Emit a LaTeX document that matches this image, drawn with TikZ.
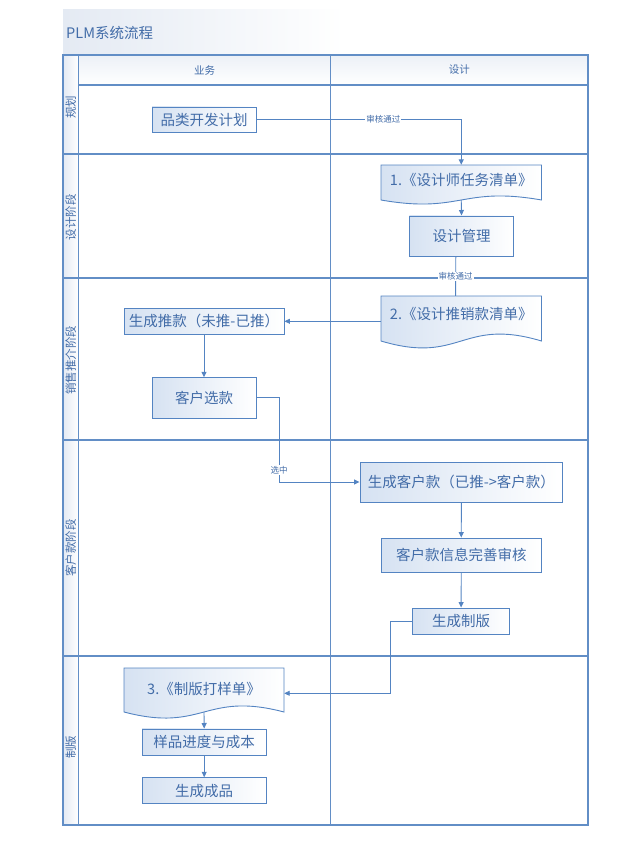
\documentclass[tikz,border=0pt]{standalone}
\usepackage{fontspec}
\newfontfamily\cjk{Noto Sans CJK SC}
\usetikzlibrary{arrows.meta,calc}
\definecolor{linecol}{RGB}{84,132,194}
\definecolor{framecol}{RGB}{98,142,198}
\definecolor{textcol}{RGB}{66,108,168}
\definecolor{boxfill}{RGB}{214,226,242}
\definecolor{bandfill}{RGB}{228,234,243}
\tikzset{
  boxnode/.style={draw=linecol, line width=0.9pt, left color=boxfill, right color=white,
    text=textcol, font=\cjk\fontsize{14.5}{16}\selectfont, inner sep=0pt, align=center},
  doctext/.style={text=textcol, font=\cjk\fontsize{14.5}{16}\selectfont, inner sep=0pt, draw=none},
  docshape/.style={draw=linecol, line width=0.9pt, left color=boxfill, right color=white},
  frameline/.style={draw=framecol, line width=1.1pt},
  conn/.style={draw=linecol, line width=0.9pt},
  arr/.style={conn, -{Triangle[length=5.5pt,width=5pt]}},
  edgelabel/.style={fill=white, text=textcol, font=\cjk\fontsize{8.5}{10}\selectfont, inner sep=1pt},
  lanelabel/.style={text=textcol, font=\cjk\fontsize{11.5}{13}\selectfont, rotate=90, inner sep=0pt},
  headlabel/.style={text=textcol, font=\cjk\fontsize{10.5}{12}\selectfont, inner sep=0pt}
}
\begin{document}
\begin{tikzpicture}[x=1pt,y=-1pt]
\useasboundingbox (0,0) rectangle (616,864);
% title band
\shade[left color=bandfill, right color=white] (63,10) rectangle (345,55);
\node[anchor=west, text=textcol, font=\cjk\fontsize{14.5}{16}\selectfont, inner sep=0pt] (title) at (66,33) {PLM系统流程};
% label column and header fills
\shade[left color=bandfill, right color=white] (63,55) rectangle (78.6,825);
\shade[top color=bandfill!70, bottom color=white] (78.6,55) rectangle (330.8,85);
\shade[top color=bandfill!70, bottom color=white] (330.8,55) rectangle (588,85);
% frame
\draw[frameline] (63,55) rectangle (588,825);
\draw[frameline] (78.6,55) -- (78.6,825);
\draw[frameline] (330.8,55) -- (330.8,825);
\draw[frameline] (78.6,85) -- (588,85);
\foreach \yy in {154,278,440,656} \draw[frameline] (63,\yy) -- (588,\yy);
% headers
\node[headlabel] (h1) at (204.7,70) {业务};
\node[headlabel] (h2) at (459.4,70) {设计};
% lane labels
\node[lanelabel] (l1) at (70.8,107) {规划};
\node[lanelabel] (l2) at (70.8,217) {设计阶段};
\node[lanelabel] (l3) at (70.8,360) {销售推介阶段};
\node[lanelabel] (l4) at (70.8,548) {客户款阶段};
\node[lanelabel] (l5) at (70.8,747) {制版};
% boxes
\node[boxnode, minimum width=104pt, minimum height=25pt] (n1) at (204,119.5) {品类开发计划};
\node[boxnode, minimum width=104.2pt, minimum height=40.7pt] (n3) at (461.5,236.3) {设计管理};
\node[boxnode, minimum width=160pt, minimum height=25.3pt] (n5) at (204,321.3) {生成推款（未推-已推）};
\node[boxnode, minimum width=104pt, minimum height=40.3pt] (n6) at (204,397.85) {客户选款};
\node[boxnode, minimum width=202.7pt, minimum height=40pt] (n7) at (461.35,482) {生成客户款（已推->客户款）};
\node[boxnode, minimum width=160.5pt, minimum height=34pt] (n8) at (461.25,555) {客户款信息完善审核};
\node[boxnode, minimum width=97pt, minimum height=26pt] (n9) at (461.1,621) {生成制版};
\node[boxnode, minimum width=124.4pt, minimum height=26.7pt] (n11) at (204.2,742.3) {样品进度与成本};
\node[boxnode, minimum width=124.4pt, minimum height=26pt] (n12) at (204.2,790.7) {生成成品};
% documents
\draw[docshape] (381,165) -- (541.5,165) -- (541.5,200) .. controls (461.25,186) and (461.25,214) .. (381,200) -- cycle;
\node[doctext, minimum width=160.5pt, minimum height=30pt] (d1) at (461.25,180) {1.《设计师任务清单》};
\coordinate (d1b) at (461.25,200);
\draw[docshape] (381,296) -- (541.5,296) -- (541.5,341) .. controls (461.25,317) and (461.25,365) .. (381,341) -- cycle;
\node[doctext, minimum width=160.5pt, minimum height=36pt] (d2) at (461.25,314) {2.《设计推销款清单》};
\draw[docshape] (124,668) -- (284,668) -- (284,712) .. controls (204,691) and (204,733) .. (124,712) -- cycle;
\node[doctext, minimum width=160pt, minimum height=42pt] (d3) at (204,689) {3.《制版打样单》};
\coordinate (d3b) at (204,712);
% connectors
\draw[arr] (n1.east) -| (d1.north) node[edgelabel, pos=0.31] {审核通过};
\draw[arr] (d1b) -- (n3.north);
\draw[conn] ([xshift=-5.7pt]n3.south) -- ([xshift=-5.7pt]d2.north) node[edgelabel, midway] {审核通过};
\draw[arr] (n5.east -| d2.west) -- (n5.east);
\draw[arr] (n5.south) -- (n6.north);
\draw[arr] (n6.east) -- ++(22.6,0) |- (n7.west) node[edgelabel, pos=0.43] {选中};
\draw[arr] (n7.south) -- (n8.north);
\draw[arr] (n8.south) -- (n9.north);
\draw[arr] (n9.west) -- ++(-21.6,0) |- ([yshift=-4.3pt]d3.east);
\draw[arr] (d3b) -- (n11.north);
\draw[arr] (n11.south) -- (n12.north);
\end{tikzpicture}
\end{document}
